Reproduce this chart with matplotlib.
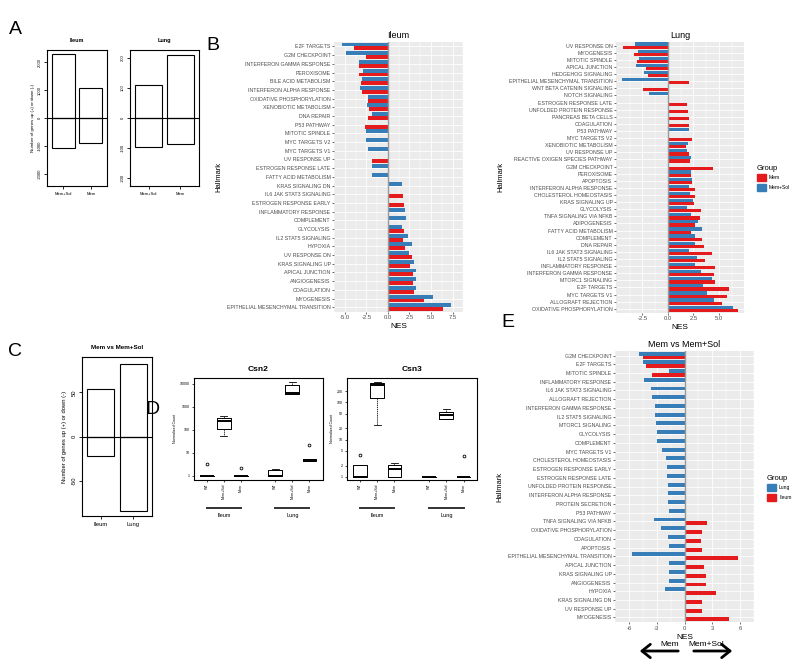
import numpy as np
import matplotlib
matplotlib.use("Agg")
import matplotlib.pyplot as plt
from matplotlib.patches import Patch, FancyArrowPatch

plt.rcParams["font.family"] = ["Liberation Sans", "DejaVu Sans"]

nan = np.nan
RED = "#E41A1C"
BLUE = "#377EB8"

# ---- A: number of DE genes (up / down) ----
a_groups = ["Mem+Sol", "Mem"]
a_ileum_up = [2280, 1080]
a_ileum_down = [1060, 880]
a_lung_up = [110, 211]
a_lung_down = [96, 88]

# ---- C: Mem vs Mem+Sol ----
c_tissues = ["Ileum", "Lung"]
c_up = [54, 82]
c_down = [22, 84]

# ---- D: normalized counts (box stats) ----
d_genotypes = ["WT", "Mem+Sol", "Mem", "WT", "Mem+Sol", "Mem"]
d_positions = [1, 2, 3, 5, 6, 7]
csn2_med = [1, 246, 1, 1, 4200, 4.6]
csn2_q1 = [1, 107, 1, 1, 3700, 4.3]
csn2_q3 = [1, 340, 1, 1.8, 8500, 5.1]
csn2_lo = [1, 55, 1, 1, 3600, 4.2]
csn2_hi = [1, 380, 1, 1.9, 12300, 5.3]
csn2_out = [[3.2], [], [2.2], [], [], [21.6]]
csn3_med = [1, 294, 1.65, 1, 47, 1]
csn3_q1 = [1, 128, 1, 1, 37, 1]
csn3_q3 = [2.1, 340, 2.06, 1, 56, 1]
csn3_lo = [1, 25, 1, 1, 35, 1]
csn3_hi = [2.1, 355, 2.4, 1, 67, 1]
csn3_out = [[3.9], [], [], [], [], [3.6]]

# ---- B: hallmark NES, Ileum ----
ileum_terms = ["E2F TARGETS", "G2M CHECKPOINT", "INTERFERON GAMMA RESPONSE", "PEROXISOME",
               "BILE ACID METABOLISM", "INTERFERON ALPHA RESPONSE", "OXIDATIVE PHOSPHORYLATION",
               "XENOBIOTIC METABOLISM", "DNA REPAIR", "P53 PATHWAY", "MITOTIC SPINDLE",
               "MYC TARGETS V2", "MYC TARGETS V1", "UV RESPONSE UP", "ESTROGEN RESPONSE LATE",
               "FATTY ACID METABOLISM", "KRAS SIGNALING DN", "IL6 JAK STAT3 SIGNALING",
               "ESTROGEN RESPONSE EARLY", "INFLAMMATORY RESPONSE", "COMPLEMENT", "GLYCOLYSIS",
               "IL2 STAT5 SIGNALING", "HYPOXIA", "UV RESPONSE DN", "KRAS SIGNALING UP",
               "APICAL JUNCTION", "ANGIOGENESIS", "COAGULATION", "MYOGENESIS",
               "EPITHELIAL MESENCHYMAL TRANSITION"]
ileum_memsol = [-5.29, -4.82, -3.36, -2.86, -3.04, -3.18, -2.36, -2.46, -1.89, nan, -2.5,
                -2.5, -2.32, nan, -1.79, -1.79, 1.68, nan, nan, 2.04, 2.07, 1.68, 2.32, 2.82,
                2.46, 3.0, 3.21, 3.29, 3.21, 5.18, 7.29]
ileum_mem = [-3.93, -2.54, -3.36, -3.39, -3.14, -3.04, -2.36, -2.18, -2.29, -2.68, nan,
             nan, nan, -1.79, nan, nan, nan, 1.71, 1.86, nan, nan, 1.89, 1.79, 1.93,
             2.79, 2.61, 2.93, 2.96, 3.04, 4.21, 6.36]

# ---- B: hallmark NES, Lung ----
lung_terms = ["UV RESPONSE DN", "MYOGENESIS", "MITOTIC SPINDLE", "APICAL JUNCTION",
              "HEDGEHOG SIGNALING", "EPITHELIAL MESENCHYMAL TRANSITION",
              "WNT BETA CATENIN SIGNALING", "NOTCH SIGNALING", "ESTROGEN RESPONSE LATE",
              "UNFOLDED PROTEIN RESPONSE", "PANCREAS BETA CELLS", "COAGULATION", "P53 PATHWAY",
              "MYC TARGETS V2", "XENOBIOTIC METABOLISM", "UV RESPONSE UP",
              "REACTIVE OXIGEN SPECIES PATHWAY", "G2M CHECKPOINT", "PEROXISOME", "APOPTOSIS",
              "INTERFERON ALPHA RESPONSE", "CHOLESTEROL HOMEOSTASIS", "KRAS SIGNALING UP",
              "GLYCOLYSIS", "TNFA SIGNALING VIA NFKB", "ADIPOGENESIS", "FATTY ACID METABOLISM",
              "COMPLEMENT", "DNA REPAIR", "IL6 JAK STAT3 SIGNALING", "IL2 STAT5 SIGNALING",
              "INFLAMMATORY RESPONSE", "INTERFERON GAMMA RESPONSE", "MTORC1 SIGNALING",
              "E2F TARGETS", "MYC TARGETS V1", "ALLOGRAFT REJECTION",
              "OXIDATIVE PHOSPHORYLATION"]
lung_memsol = [-3.17, -2.94, -2.81, -3.1, -2.29, -4.51, nan, -1.83, nan, nan, nan, nan, 2.09,
               nan, 1.99, 1.86, 2.29, nan, 2.29, 2.39, 2.12, 2.22, 2.48, 1.86, 2.32, 2.94,
               3.37, 2.65, 2.65, 2.09, 2.84, 2.65, 3.24, 4.31, 3.5, 3.82, 4.54, 6.44]
lung_mem = [-4.44, -3.3, -3.04, -2.12, -1.9, 2.09, -2.45, nan, 1.93, 1.99, 2.03, 2.06, nan,
            2.35, 1.8, 2.06, 2.19, 4.47, 2.32, 2.39, 2.68, 2.71, 2.52, 3.24, 3.14, 2.65,
            2.25, 3.33, 3.56, 4.31, 3.66, 4.64, 4.54, 4.64, 6.04, 5.85, 5.29, 6.93]

# ---- E: Mem vs Mem+Sol NES ----
e_terms = ["G2M CHECKPOINT", "E2F TARGETS", "MITOTIC SPINDLE", "INFLAMMATORY RESPONSE",
           "IL6 JAK STAT3 SIGNALING", "ALLOGRAFT REJECTION", "INTERFERON GAMMA RESPONSE",
           "IL2 STAT5 SIGNALING", "MTORC1 SIGNALING", "GLYCOLYSIS", "COMPLEMENT",
           "MYC TARGETS V1", "CHOLESTEROL HOMEOSTASIS", "ESTROGEN RESPONSE EARLY",
           "ESTROGEN RESPONSE LATE", "UNFOLDED PROTEIN RESPONSE", "INTERFERON ALPHA RESPONSE",
           "PROTEIN SECRETION", "P53 PATHWAY", "TNFA SIGNALING VIA NFKB",
           "OXIDATIVE PHOSPHORYLATION", "COAGULATION", "APOPTOSIS",
           "EPITHELIAL MESENCHYMAL TRANSITION", "APICAL JUNCTION", "KRAS SIGNALING UP",
           "ANGIOGENESIS", "HYPOXIA", "KRAS SIGNALING DN", "UV RESPONSE UP", "MYOGENESIS"]
e_lung = [-4.94, -4.48, -1.64, -4.39, -3.58, -3.52, -3.21, -3.21, -3.12, -3.0, -2.94, -2.42,
          -2.0, -1.94, -1.85, -1.82, -1.79, -1.73, -1.7, -3.24, -2.55, -1.76, -1.67, -5.67,
          -1.64, -1.7, -1.7, -2.15, nan, nan, nan]
e_ileum = [-4.45, -4.18, -3.55, nan, nan, nan, nan, nan, nan, nan, nan, nan, nan, nan, nan,
           nan, nan, nan, nan, 2.45, 1.85, 1.76, 1.85, 5.8, 2.12, 2.27, 2.3, 3.42, 1.91,
           1.91, 4.75]

W, H = 800, 667
fig = plt.figure(figsize=(8, 6.67), dpi=100)


def rect(x0, y0, x1, y1):
    return [x0 / W, 1 - y1 / H, (x1 - x0) / W, (y1 - y0) / H]


def fx(x):
    return x / W


def fy(y):
    return 1 - y / H


def updown(ax, up, down, labels, lim, ticks, title, tfs, lfs):
    x = [0.7, 1.9]
    ax.bar(x, up, width=1, fill=False, edgecolor="black", lw=0.8)
    ax.bar(x, [-d for d in down], width=1, fill=False, edgecolor="black", lw=0.8)
    ax.axhline(0, color="black", lw=0.8)
    ax.set_xlim(0, 2.6)
    ax.set_ylim(-lim, lim)
    ax.set_xticks(x)
    ax.set_xticklabels(labels, fontsize=lfs)
    ax.set_yticks(ticks)
    ax.set_yticklabels([str(t) for t in ticks], rotation=90, va="center", fontsize=lfs)
    ax.tick_params(length=2, width=0.6, pad=2)
    for s in ax.spines.values():
        s.set_linewidth(0.8)
    ax.set_title(title, fontsize=tfs, fontweight="bold", pad=6)


# A
axA1 = fig.add_axes(rect(47, 50, 107, 186))
updown(axA1, a_ileum_up, a_ileum_down, a_groups, 2430, [-2000, -1000, 0, 1000, 2000],
       "Ileum", 4, 3)
axA1.set_ylabel("Number of genes up (+) or down (-)", fontsize=3.2, labelpad=2)
axA2 = fig.add_axes(rect(130, 50, 199, 186))
updown(axA2, a_lung_up, a_lung_down, a_groups, 227, [-200, -100, 0, 100, 200],
       "Lung", 4, 3)

# C
axC = fig.add_axes(rect(82, 357, 152, 516))
updown(axC, c_up, c_down, c_tissues, 90, [-50, 0, 50], "Mem vs Mem+Sol", 4.5, 4.2)
axC.set_ylabel("Number of genes up (+) or down (-)", fontsize=4.2, labelpad=3)


# D
def counts(ax, med, q1, q3, lo, hi, out, ylim, ticks, title, ylab):
    stats = []
    for i in range(len(med)):
        stats.append(dict(med=med[i], q1=q1[i], q3=q3[i], whislo=lo[i], whishi=hi[i],
                          fliers=out[i]))
    ax.bxp(stats, positions=d_positions, widths=0.8, showfliers=True,
           boxprops=dict(color="black", lw=0.7),
           medianprops=dict(color="black", lw=1.4),
           whiskerprops=dict(color="black", lw=0.6, ls=(0, (1.5, 1))),
           capprops=dict(color="black", lw=0.6),
           flierprops=dict(marker="o", markersize=2, markerfacecolor="none",
                           markeredgecolor="black", markeredgewidth=0.6))
    ax.set_yscale("log")
    ax.set_ylim(*ylim)
    ax.set_xlim(0.25, 7.78)
    ax.set_yticks(ticks)
    ax.set_yticklabels([str(t) for t in ticks], fontsize=2.6)
    ax.minorticks_off()
    ax.set_xticks(d_positions)
    ax.set_xticklabels(d_genotypes, rotation=90, fontsize=2.6)
    ax.tick_params(length=1.5, width=0.5, pad=1.5)
    for s in ax.spines.values():
        s.set_linewidth(0.8)
    ax.set_title(title, fontsize=6, fontweight="bold", pad=5)
    ax.set_ylabel(ylab, fontsize=2.6, labelpad=2)
    tr = ax.get_xaxis_transform()
    for (a, b), name in zip([(1, 3), (5, 7)], ["Ileum", "Lung"]):
        ax.plot([a, b], [-0.28, -0.28], color="#333333", lw=1.4, transform=tr, clip_on=False)
        ax.text((a + b) / 2, -0.33, name, transform=tr, ha="center", va="top", fontsize=4)


axD1 = fig.add_axes(rect(194, 378, 322.7, 479.5))
counts(axD1, csn2_med, csn2_q1, csn2_q3, csn2_lo, csn2_hi, csn2_out, (0.68, 18000),
       [1, 10, 100, 1000, 10000], "Csn2", "Normalized Count")
axD2 = fig.add_axes(rect(347, 378, 477, 479.5))
counts(axD2, csn3_med, csn3_q1, csn3_q3, csn3_lo, csn3_hi, csn3_out, (0.85, 455),
       [1, 2, 5, 10, 20, 50, 100, 200], "Csn3", "Normalized Count")


# B / E ggplot-style bars
def nes(ax, terms, top, bottom, ticks, ticklabels, title):
    n = len(terms)
    y = np.arange(n, 0, -1)
    ax.barh(y + 0.225, top, height=0.45, color=BLUE, lw=0)
    ax.barh(y - 0.225, bottom, height=0.45, color=RED, lw=0)
    ax.set_facecolor("#EBEBEB")
    for s in ax.spines.values():
        s.set_visible(False)
    allv = np.array(list(top) + list(bottom), dtype=float)
    lo, hi = np.nanmin(allv), np.nanmax(allv)
    pad = 0.05 * (hi - lo)
    ax.set_xlim(lo - pad, hi + pad)
    ax.set_ylim(0.45, n + 0.55)
    ax.set_yticks(y)
    ax.set_yticklabels(terms, fontsize=3.8, color="#4D4D4D")
    ax.set_xticks(ticks)
    ax.set_xticklabels(ticklabels, fontsize=4.2, color="#4D4D4D")
    step = ticks[1] - ticks[0]
    ax.set_xticks([t + step / 2 for t in ticks[:-1]] + [ticks[0] - step / 2, ticks[-1] + step / 2],
                  minor=True)
    ax.tick_params(which="major", length=1.5, width=0.5, color="#333333", pad=1)
    ax.tick_params(which="minor", length=0)
    ax.grid(which="major", color="white", lw=0.6)
    ax.grid(which="minor", axis="x", color="white", lw=0.3)
    ax.set_axisbelow(True)
    ax.axvline(0, color="#9A9A9A", lw=1.0)
    ax.set_title(title, fontsize=6.5, pad=3)
    ax.set_xlabel("NES", fontsize=6, labelpad=2)
    ax.set_ylabel("Hallmark", fontsize=5.5, labelpad=3)


axB1 = fig.add_axes(rect(334, 41.7, 463.3, 312))
nes(axB1, ileum_terms, ileum_memsol, ileum_mem, [-5, -2.5, 0, 2.5, 5, 7.5],
    ["-5.0", "-2.5", "0.0", "2.5", "5.0", "7.5"], "Ileum")
axB2 = fig.add_axes(rect(616, 41.7, 744.3, 312.7))
nes(axB2, lung_terms, lung_memsol, lung_mem, [-2.5, 0, 2.5, 5],
    ["-2.5", "0.0", "2.5", "5.0"], "Lung")
axB2.legend(handles=[Patch(color=RED), Patch(color=BLUE)], labels=["Mem", "Mem+Sol"],
            title="Group", loc="upper left", bbox_to_anchor=(fx(752), fy(160)),
            bbox_transform=fig.transFigure, frameon=False, fontsize=3.6,
            title_fontsize=5.5, handlelength=1.9, handleheight=1.8, labelspacing=0.5,
            handletextpad=0.6, alignment="left")

axE = fig.add_axes(rect(615, 350.7, 754, 622.3))
nes(axE, e_terms, e_lung, e_ileum, [-6, -3, 0, 3, 6], ["-6", "-3", "0", "3", "6"],
    "Mem vs Mem+Sol")
axE.legend(handles=[Patch(color=BLUE), Patch(color=RED)], labels=["Lung", "Ileum"],
           title="Group", loc="upper left", bbox_to_anchor=(fx(762), fy(470)),
           bbox_transform=fig.transFigure, frameon=False, fontsize=3.6,
           title_fontsize=5.5, handlelength=1.9, handleheight=1.8, labelspacing=0.5,
           handletextpad=0.6, alignment="left")

# direction arrows under E
fig.text(fx(670), fy(644.5), "Mem", fontsize=6, ha="center", va="center")
fig.text(fx(706), fy(644.5), "Mem+Sol", fontsize=6, ha="center", va="center")
for x0, x1 in [(681, 637), (691, 735)]:
    fig.add_artist(FancyArrowPatch((fx(x0), fy(651)), (fx(x1), fy(651)),
                                   transform=fig.transFigure,
                                   arrowstyle="->,head_length=0.5,head_width=0.4",
                                   mutation_scale=12, lw=2, color="black"))

# panel letters
for letter, x, y in [("A", 15, 30), ("B", 213, 45), ("C", 15, 352), ("D", 152, 410),
                     ("E", 508, 322)]:
    fig.text(fx(x), fy(y), letter, fontsize=14, ha="center", va="center")

fig.savefig("out.png", dpi=100)
